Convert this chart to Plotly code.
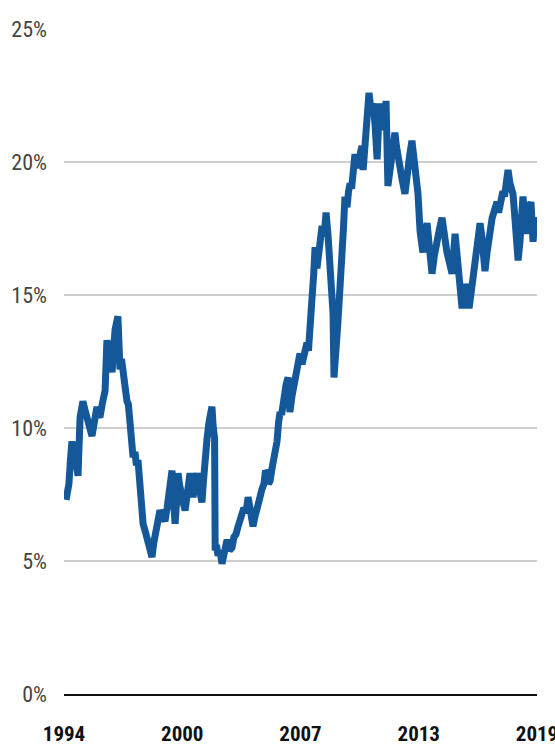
import plotly.graph_objects as go

# decimal year of each observation
years = [
    1994.61, 1994.70, 1994.76, 1994.84, 1994.92, 1995.00, 1995.08, 1995.16, 1995.24, 1995.35,
    1995.42, 1995.50, 1995.60, 1995.72, 1995.85, 1995.98, 1996.10, 1996.24, 1996.32, 1996.40,
    1996.52, 1996.67, 1996.77, 1996.90, 1997.04, 1997.12, 1997.20, 1997.35, 1997.46, 1997.54,
    1997.62, 1997.72, 1997.83, 1997.90, 1997.99, 1998.07, 1998.15, 1998.25, 1998.33, 1998.41,
    1998.50, 1998.58, 1998.68, 1998.80, 1998.94, 1999.05, 1999.15, 1999.25, 1999.36, 1999.46,
    1999.57, 1999.70, 1999.84, 1999.95, 2000.05, 2000.13, 2000.21, 2000.29, 2000.37, 2000.45,
    2000.53, 2000.60, 2000.68, 2000.80, 2000.90, 2001.03, 2001.16, 2001.24, 2001.32, 2001.42,
    2001.53, 2001.66, 2001.79, 2001.87, 2001.95, 2002.06, 2002.16, 2002.24, 2002.32, 2002.38,
    2002.43, 2002.46, 2002.49, 2002.56, 2002.64, 2002.74, 2002.85, 2002.98, 2003.12, 2003.25,
    2003.38, 2003.48, 2003.59, 2003.70, 2003.80, 2003.90, 2004.01, 2004.12, 2004.23, 2004.35,
    2004.49, 2004.57, 2004.65, 2004.76, 2004.86, 2004.96, 2005.07, 2005.15, 2005.23, 2005.31,
    2005.39, 2005.50, 2005.60, 2005.68, 2005.76, 2005.84, 2005.92, 2006.00, 2006.07, 2006.15,
    2006.23, 2006.34, 2006.44, 2006.55, 2006.66, 2006.76, 2006.87, 2006.97, 2007.08, 2007.18,
    2007.26, 2007.34, 2007.42, 2007.50, 2007.61, 2007.70, 2007.77, 2007.87, 2007.95, 2008.03,
    2008.14, 2008.25, 2008.35, 2008.45, 2008.56, 2008.66, 2008.72, 2008.77, 2008.87, 2008.98,
    2009.08, 2009.19, 2009.27, 2009.35, 2009.46, 2009.54, 2009.62, 2009.70, 2009.78, 2009.88,
    2009.98, 2010.10, 2010.18, 2010.25, 2010.31, 2010.42, 2010.52, 2010.62, 2010.73, 2010.84,
    2010.94, 2011.05, 2011.12, 2011.20, 2011.28, 2011.36, 2011.44, 2011.52, 2011.62, 2011.72,
    2011.84, 2011.99, 2012.07, 2012.15, 2012.26, 2012.38, 2012.52, 2012.60, 2012.68, 2012.78,
    2012.89, 2013.05, 2013.13, 2013.21, 2013.32, 2013.47, 2013.58, 2013.69, 2013.84, 2013.95,
    2014.08, 2014.21, 2014.35, 2014.48, 2014.60, 2014.74, 2014.88, 2015.01, 2015.17, 2015.25,
    2015.33, 2015.43, 2015.54, 2015.62, 2015.70, 2015.80, 2015.91, 2016.02, 2016.12, 2016.22,
    2016.33, 2016.41, 2016.49, 2016.57, 2016.65, 2016.75, 2016.86, 2016.97, 2017.05, 2017.13,
    2017.26, 2017.39, 2017.47, 2017.55, 2017.62, 2017.70, 2017.78, 2017.86, 2017.97, 2018.07,
    2018.15, 2018.23, 2018.31, 2018.39, 2018.50, 2018.60, 2018.68, 2018.76, 2018.86, 2018.97,
    2019.08, 2019.18, 2019.29, 2019.39, 2019.50,
]

# share (%)
share = [
    7.3, 7.6, 7.9, 8.8, 9.5, 9.0, 9.2, 8.6, 8.2, 10.4,
    10.6, 11.0, 10.7, 10.3, 10.0, 9.7, 10.2, 10.8, 10.5, 10.4,
    10.9, 11.4, 13.3, 12.6, 12.1, 12.9, 13.7, 14.2, 12.2, 12.6,
    12.3, 11.6, 11.0, 10.9, 10.2, 9.3, 8.9, 9.1, 8.6, 8.8,
    7.9, 7.2, 6.4, 6.1, 5.8, 5.5, 5.15, 5.7, 6.2, 6.5,
    6.9, 6.7, 6.5, 7.0, 7.4, 7.9, 8.4, 7.3, 6.4, 7.2,
    8.3, 7.9, 7.5, 7.2, 6.9, 7.6, 8.3, 7.8, 7.4, 7.9,
    8.3, 7.7, 7.2, 8.0, 8.9, 9.6, 10.2, 10.5, 10.8, 10.1,
    9.8, 9.6, 5.4, 5.6, 5.2, 5.4, 4.9, 5.4, 5.8, 5.4,
    5.5, 5.9, 6.0, 6.3, 6.5, 6.8, 7.0, 6.8, 7.4, 6.9,
    6.3, 6.6, 6.9, 7.1, 7.4, 7.7, 7.9, 8.4, 8.3, 7.9,
    8.0, 8.5, 8.8, 9.2, 9.5, 10.2, 10.6, 10.5, 11.0, 11.3,
    11.6, 11.9, 10.6, 11.2, 11.7, 12.0, 12.5, 12.8, 12.4, 12.7,
    13.0, 13.2, 12.9, 13.5, 14.9, 15.8, 16.8, 16.0, 16.6, 17.0,
    17.6, 17.2, 18.1, 17.3, 16.2, 15.0, 14.3, 11.9, 13.5, 14.0,
    15.2, 16.2, 17.5, 18.7, 18.3, 18.9, 19.2, 19.0, 19.6, 20.3,
    19.8, 20.0, 20.4, 20.6, 19.7, 20.8, 21.7, 22.6, 21.9, 22.2,
    21.4, 20.1, 21.3, 22.2, 21.5, 21.8, 21.2, 22.3, 19.1, 19.6,
    20.0, 21.1, 20.6, 20.2, 19.6, 19.3, 18.8, 19.4, 19.8, 20.3,
    20.8, 19.7, 19.3, 18.8, 17.4, 16.6, 17.3, 17.7, 16.6, 15.8,
    16.5, 17.1, 17.5, 17.9, 17.2, 16.6, 16.2, 15.8, 17.3, 16.7,
    16.2, 15.6, 14.5, 15.0, 15.4, 15.2, 14.5, 15.1, 15.6, 16.1,
    16.6, 17.2, 17.7, 17.3, 16.8, 15.9, 16.6, 17.3, 17.6, 17.9,
    18.2, 18.5, 18.1, 18.3, 18.6, 18.9, 18.7, 19.3, 19.7, 19.2,
    19.0, 18.8, 18.1, 17.4, 16.3, 17.0, 17.6, 18.7, 17.8, 17.3,
    18.2, 18.5, 17.0, 17.9, 17.6,
]

x_range = [1994.5, 2019.5]
x_tick_labels = ["1994", "2000", "2007", "2013", "2019"]
y_ticks = [0, 5, 10, 15, 20, 25]
y_tick_labels = ["0%", "5%", "10%", "15%", "20%", "25%"]

n = len(x_tick_labels)
x_tick_pos = [x_range[0] + i * (x_range[1] - x_range[0]) / (n - 1) for i in range(n)]

fig = go.Figure()
fig.add_trace(go.Scatter(
    x=years, y=share, mode="lines",
    line=dict(color="#14589a", width=7),
    hoverinfo="skip", showlegend=False,
))

narrow = "Liberation Sans Narrow, Arial Narrow, Roboto Condensed, sans-serif"

fig.update_layout(
    width=555, height=748,
    margin=dict(l=64, r=18, t=29, b=54, autoexpand=False),
    paper_bgcolor="white", plot_bgcolor="white",
    xaxis=dict(
        range=x_range, tickmode="array", tickvals=x_tick_pos, ticktext=x_tick_labels,
        showgrid=False, zeroline=False, automargin=False,
        showline=True, linecolor="#111111", linewidth=2,
        ticks="", ticklabelstandoff=20, ticklabeloverflow="allow",
        tickfont=dict(family=narrow, size=21, color="#111111", weight="bold"),
    ),
    yaxis=dict(
        range=[0, 25], tickmode="array", tickvals=y_ticks, ticktext=y_tick_labels,
        showgrid=True, gridcolor="#cfcfcf", gridwidth=2, automargin=False,
        zeroline=False, showline=False, ticks="", ticklabelstandoff=16,
        ticklabeloverflow="allow",
        tickfont=dict(family=narrow, size=22, color="#444444"),
    ),
)

# remove the default page margin so the figure fills the window exactly
fig.write_html(
    "out.html",
    config={"displayModeBar": False},
    post_script="document.body.style.margin='0';document.body.style.overflow='hidden';",
)
